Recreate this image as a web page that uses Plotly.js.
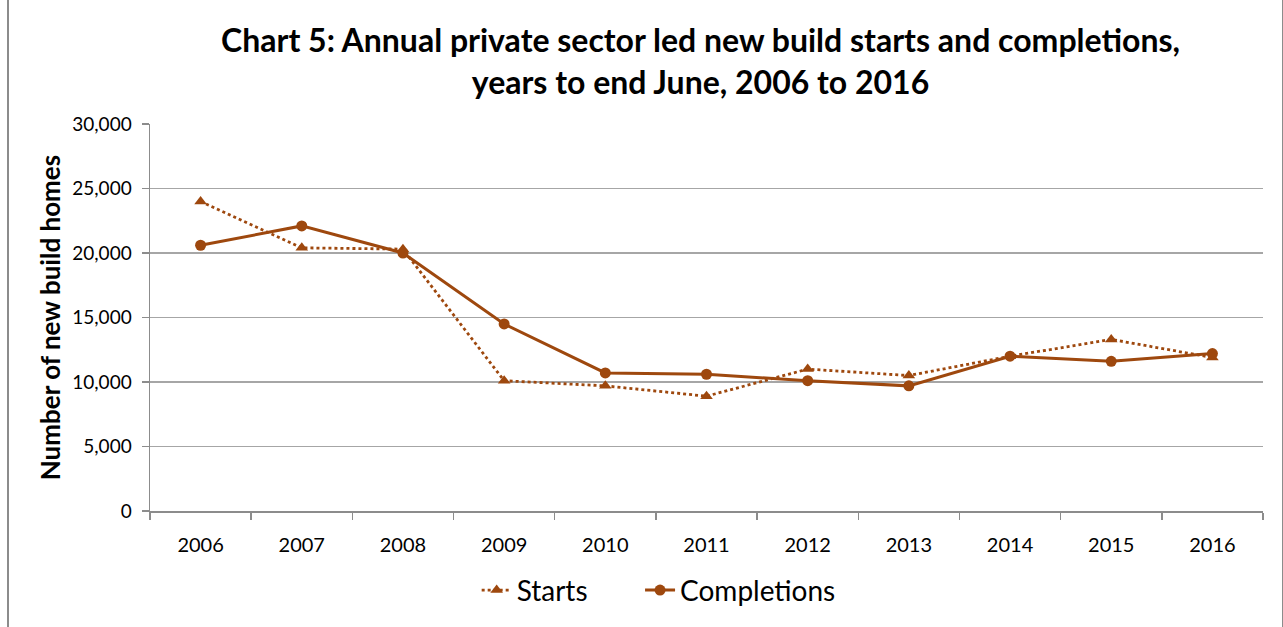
<!DOCTYPE html>
<html>
<head>
<meta charset="utf-8">
<script src="https://cdn.plot.ly/plotly-3.0.1.min.js"></script>
<style>
html,body{margin:0;padding:0;background:#fff;}
#wrap{position:relative;width:1283px;height:627px;}
#chart{width:1283px;height:627px;}
#frame{position:absolute;left:7px;top:-2px;width:1273px;height:640px;border-left:2px solid #8c8c8c;border-right:2px solid #8c8c8c;pointer-events:none;}
</style>
</head>
<body>
<div id="wrap"><div id="chart"></div><div id="frame"></div></div>
<script>
const years = ['2006','2007','2008','2009','2010','2011','2012','2013','2014','2015','2016'];
const starts = [24000, 20400, 20300, 10100, 9700, 8900, 11000, 10500, 12000, 13300, 11900];
const completions = [20600, 22100, 20000, 14500, 10700, 10600, 10100, 9700, 12000, 11600, 12200];
const yTickVals = [0, 5000, 10000, 15000, 20000, 25000, 30000];
const yTickText = ['0', '5,000', '10,000', '15,000', '20,000', '25,000', '30,000'];

const colour = '#9E480E';
const font = 'Lato, "Open Sans", sans-serif';

const traces = [
  {
    x: years, y: starts, name: 'Starts', type: 'scatter', mode: 'lines+markers',
    line: {color: colour, width: 2.8, dash: 'dot'},
    marker: {symbol: 'triangle-up', size: 11, color: colour},
    legend: 'legend'
  },
  {
    x: years, y: completions, name: 'Completions', type: 'scatter', mode: 'lines+markers',
    line: {color: colour, width: 3},
    marker: {symbol: 'circle', size: 11, color: colour},
    legend: 'legend2'
  }
];

const legendFont = {family: font, size: 28, color: '#000'};

const layout = {
  width: 1283, height: 627,
  margin: {l: 150, r: 20, t: 124, b: 112},
  paper_bgcolor: '#fff', plot_bgcolor: '#fff',
  font: {family: font, color: '#000', size: 19},
  title: {
    text: '<b>Chart 5: Annual private sector led new build starts and completions,<br>years to end June, 2006 to 2016</b>',
    font: {family: font, size: 32, color: '#000'},
    xref: 'container', x: 0.546, xanchor: 'center',
    yref: 'container', y: 0.917, yanchor: 'top'
  },
  xaxis: {
    type: 'category', range: [-0.5, 10.5],
    showline: true, linecolor: '#8c8c8c', linewidth: 1.5,
    ticks: 'outside', tickson: 'boundaries', ticklen: 7, tickcolor: '#8c8c8c', tickwidth: 1.5,
    ticklabelstandoff: 15,
    showgrid: false, tickfont: {family: font, size: 20, color: '#000'}
  },
  yaxis: {
    range: [0, 30000], tickvals: yTickVals, ticktext: yTickText,
    showline: true, linecolor: '#8c8c8c', linewidth: 1.5,
    ticks: 'outside', ticklen: 7, tickcolor: '#8c8c8c', tickwidth: 1.5,
    ticklabelstandoff: 6,
    showgrid: true, gridcolor: '#a6a6a6', gridwidth: 1.2, zeroline: false,
    tickfont: {family: font, size: 19, color: '#000'},
    title: {text: '<b>Number of new build homes</b>', font: {family: font, size: 26, color: '#000'}, standoff: 4}
  },
  legend: {
    orientation: 'h', x: 0.2935, xanchor: 'left', y: -0.205, yanchor: 'middle',
    font: legendFont, bgcolor: 'rgba(0,0,0,0)'
  },
  legend2: {
    orientation: 'h', x: 0.4403, xanchor: 'left', y: -0.205, yanchor: 'middle',
    font: legendFont, bgcolor: 'rgba(0,0,0,0)'
  },
  showlegend: true
};

Plotly.newPlot('chart', traces, layout, {displayModeBar: false, staticPlot: true});
</script>
</body>
</html>
